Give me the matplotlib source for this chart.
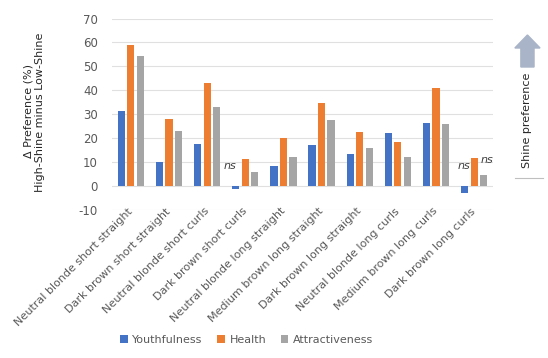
import matplotlib.pyplot as plt
from matplotlib.patches import FancyArrow
import numpy as np

plt.rcParams['axes.unicode_minus'] = False

categories = ["Neutral blonde short straight", "Dark brown short straight", "Neutral blonde short curls",
              "Dark brown short curls", "Neutral blonde long straight", "Medium brown long straight",
              "Dark brown long straight", "Neutral blonde long curls", "Medium brown long curls",
              "Dark brown long curls"]
youthfulness = [31.5, 10.0, 17.3, -1.5, 8.1, 16.9, 13.1, 21.9, 26.1, -3.2]
health = [59.0, 27.9, 43.0, 11.3, 19.8, 34.7, 22.5, 18.3, 41.0, 11.6]
attractiveness = [54.3, 22.8, 33.0, 5.9, 11.9, 27.4, 15.9, 12.1, 25.7, 4.3]
series_names = ["Youthfulness", "Health", "Attractiveness"]
colors = ["#4472C4", "#ED7D31", "#A5A5A5"]

fig = plt.figure(figsize=(5.48, 3.58), dpi=100)
ax = fig.add_axes([0.204, 0.4145, 0.696, 0.5335])
x = np.arange(len(categories))
w = 0.19
step = 0.25
for i, (vals, name, c) in enumerate(zip([youthfulness, health, attractiveness], series_names, colors)):
    ax.bar(x + (i - 1) * step, vals, width=w, color=c, label=name, zorder=3)

ax.set_ylim(-10, 70)
ax.set_xlim(-0.5, len(categories) - 0.5)
ax.set_yticks(range(-10, 71, 10))
ax.yaxis.grid(True, color="#E0E0E0", linewidth=0.8, zorder=0)
for s in ax.spines.values():
    s.set_visible(False)
ax.tick_params(axis="both", length=0, colors="#595959", labelsize=8.5)
ax.set_xticks(x)
ax.set_xticklabels(categories, rotation=45, ha="right", va="center", rotation_mode="anchor",
                   fontsize=8, color="#595959")
ax.tick_params(axis="x", pad=0)
ax.tick_params(axis="y", pad=10)

# ns annotations
ax.text(3 - 0.39, 8.2, "ns", style="italic", fontsize=8, color="#404040", ha="center", va="center")
ax.text(9 - 0.26, 8.2, "ns", style="italic", fontsize=8, color="#404040", ha="center", va="center")
ax.text(9 + 0.34, 10.7, "ns", style="italic", fontsize=8, color="#404040", ha="center", va="center")

fig.text(0.052, 1 - 111 / 358, "Δ Preference (%)", rotation=90, ha="center", va="center", fontsize=8, color="#262626")
fig.text(0.073, 1 - 112 / 358, "High-Shine minus Low-Shine", rotation=90, ha="center", va="center", fontsize=8, color="#262626")

# Shine preference arrow
fig.patches.append(FancyArrow(0.9625, 1 - 67 / 358, 0, 32 / 358, width=0.024, head_width=0.046,
                              head_length=13 / 358, length_includes_head=True,
                              color="#A9B4C8", transform=fig.transFigure, figure=fig))
fig.text(0.9625, 1 - 120 / 358, "Shine preference", rotation=90, ha="center", va="center", fontsize=8, color="#262626")
fig.add_artist(plt.Line2D([0.94, 0.99], [1 - 178 / 358, 1 - 178 / 358], color="#BFBFBF", linewidth=0.8,
                          transform=fig.transFigure))

fig.legend(loc="center", bbox_to_anchor=(0.45, 0.05), ncol=3, frameon=False, fontsize=8,
           handlelength=0.7, handleheight=0.7, handletextpad=0.4, columnspacing=1.3, labelcolor="#595959")

fig.savefig("out.png", dpi=100)
